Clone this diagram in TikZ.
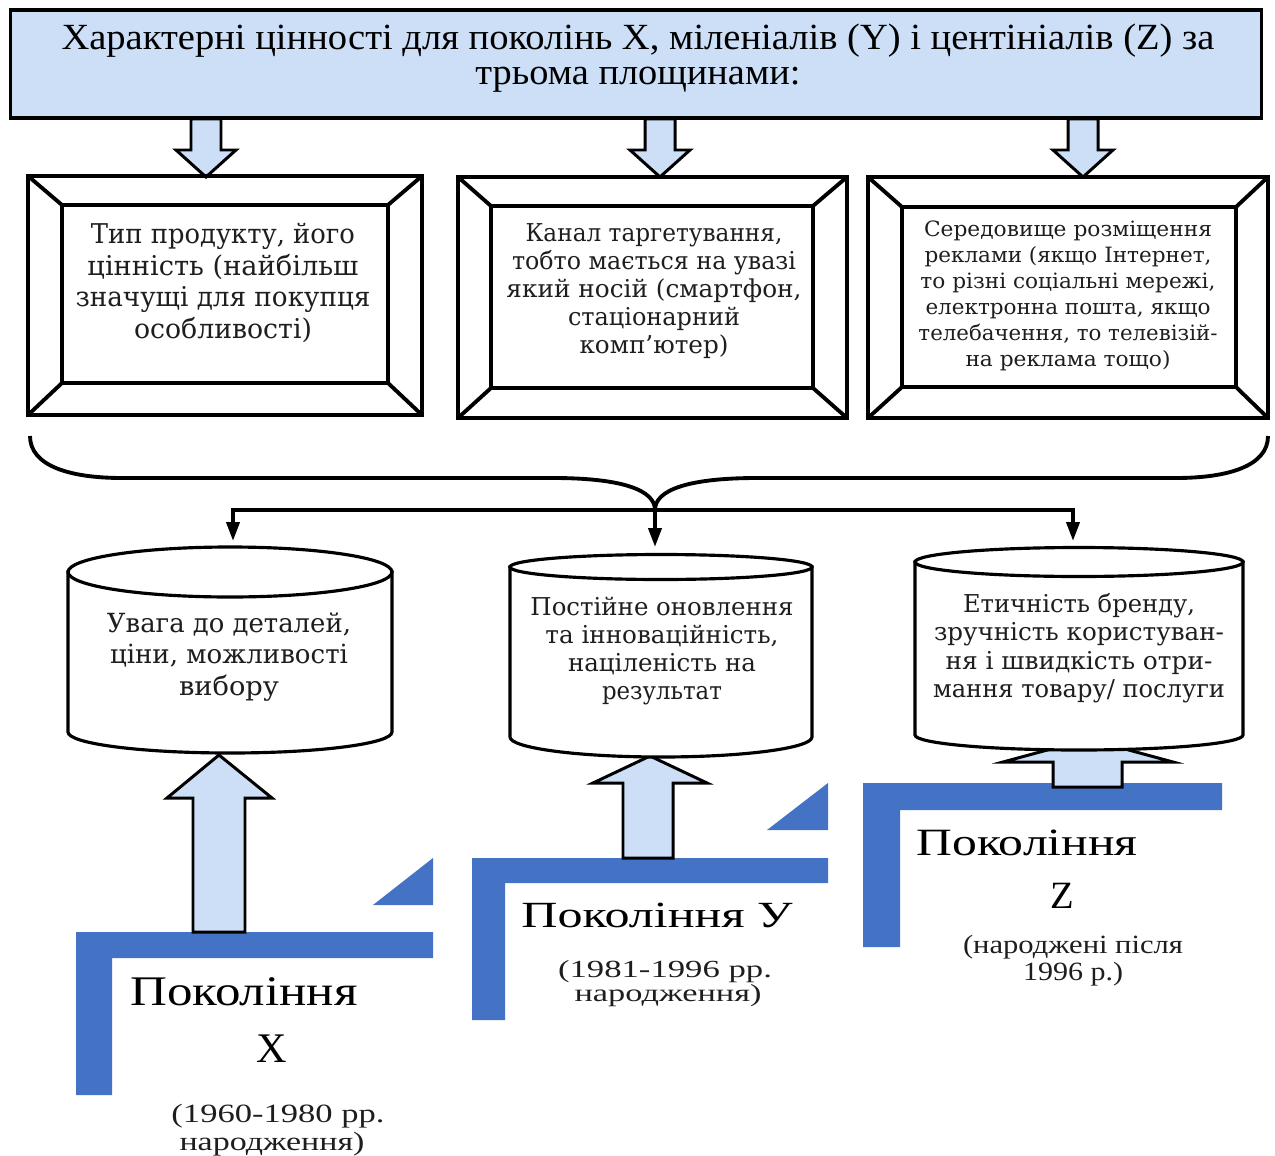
\documentclass[tikz,border=0pt]{standalone}
\usepackage{graphicx}
\usepackage{fontspec}
\setmainfont{Liberation Serif}
\newfontfamily\slabfont{DejaVu Serif}
\usetikzlibrary{arrows.meta}

% one drawing unit (px)
\newdimen\pxu \pxu=0.02cm
% a line of text stretched to a given width, keeping its height
\newcommand\wl[2]{\resizebox{#1\pxu}{\height}{#2}}

\definecolor{paleblue}{HTML}{CCDFF7}
\definecolor{barblue}{HTML}{4472C4}
\definecolor{ink}{HTML}{1E1E1E}

\tikzset{
  frame/.style={draw, line width=2.2pt, inner sep=0pt, outer sep=0pt, line join=miter},
  slabtext/.style={align=center, inner sep=0pt, text=ink},
  gentext/.style={inner sep=0pt, anchor=base, text=black},
  smalltext/.style={inner sep=0pt, anchor=base, text=ink},
  blockarrow/.style={draw=black, fill=paleblue, line width=1.7pt, line join=miter},
  cyl/.style={draw=black, fill=white, line width=1.8pt},
  bracket/.style={line width=2.2pt},
  conn/.style={line width=2.2pt, -{Triangle[length=0.38cm, width=0.26cm]}}
}

\begin{document}
\begin{tikzpicture}[x=0.02cm, y=-0.02cm]
\useasboundingbox (0,0) rectangle (1275,1156);

% ---------- heading ----------
\node[draw, fill=paleblue, line width=1.8pt, inner sep=0pt, outer sep=0pt,
      minimum width=25.04cm, minimum height=2.16cm] (title) at (636,64) {};
\node[align=center, inner sep=0pt, font=\fontsize{21}{20}\selectfont] (titletext) at (638,58)
  {\wl{1153}{Характерні цінності для поколінь X, міленіалів (Y) і центініалів (Z) за}\\
   \wl{325}{трьома площинами:}};

% ---------- down block arrows ----------
\foreach \cx in {206,660,1083}
  \draw[blockarrow] (\cx-15,119) -- (\cx-15,150) -- (\cx-30,150) -- (\cx,177)
    -- (\cx+30,150) -- (\cx+15,150) -- (\cx+15,119) -- cycle;

% ---------- bevelled boxes ----------
\node[frame, minimum width=7.88cm, minimum height=4.78cm] (o1) at (225,295.5) {};
\node[frame, minimum width=6.52cm, minimum height=3.56cm] (i1) at (225,294) {};
\node[frame, minimum width=7.78cm, minimum height=4.82cm] (o2) at (652.5,297.5) {};
\node[frame, minimum width=6.44cm, minimum height=3.64cm] (i2) at (652,297) {};
\node[frame, minimum width=8.0cm, minimum height=4.82cm] (o3) at (1068,297.5) {};
\node[frame, minimum width=6.68cm, minimum height=3.6cm] (i3) at (1069,297) {};
\foreach \k in {1,2,3}
  \foreach \c in {north west, north east, south west, south east}
    \draw[line width=2.2pt] (o\k.\c) -- (i\k.\c);

\node[slabtext, font=\slabfont\fontsize{15.5}{18}\selectfont] (t1) at (223,283)
  {\wl{264}{Тип продукту, його}\\ \wl{271}{цінність (найбільш}\\
   \wl{295}{значущі для покупця}\\ \wl{178}{особливості)}};
\node[slabtext, font=\slabfont\fontsize{14}{16}\selectfont] (t2) at (654,291)
  {\wl{257}{Канал таргетування,}\\ \wl{284}{тобто мається на увазі}\\
   \wl{295}{який носій (смартфон,}\\ \wl{172}{стаціонарний}\\ \wl{149}{комп’ютер)}};
\node[slabtext, font=\slabfont\fontsize{12}{14.8}\selectfont] (t3) at (1068,296)
  {\wl{288}{Середовище розміщення}\\ \wl{287}{реклами (якщо Інтернет,}\\
   \wl{295}{то різні соціальні мережі,}\\ \wl{285}{електронна пошта, якщо}\\
   \wl{299}{телебачення, то телевізій-}\\ \wl{205}{на реклама тощо)}};

% ---------- bracket and distribution arrows ----------
\coordinate (hub) at (655,510);
\draw[bracket] (30,436) .. controls (30,466) and (70,478) .. (122,478) -- (553,478)
  .. controls (622,478) and (655,490) .. (hub);
\draw[bracket] (1268,436) .. controls (1268,466) and (1228,478) .. (1176,478) -- (757,478)
  .. controls (688,478) and (655,490) .. (hub);
\coordinate (c1) at (233,541);
\coordinate (c2) at (655,547);
\coordinate (c3) at (1073,541);
\draw[conn] (hub) -| (c1);
\draw[conn] (hub) -- (c2);
\draw[conn] (hub) -| (c3);

% ---------- generation brackets ----------
\fill[barblue] (76,932) -- (433,932) -- (433,958) -- (112,958) -- (112,1095) -- (76,1095) -- cycle;
\fill[barblue] (373,905) -- (433,858) -- (433,905) -- cycle;
\fill[barblue] (472,858) -- (828,858) -- (828,883) -- (505,883) -- (505,1020) -- (472,1020) -- cycle;
\fill[barblue] (767,830) -- (828,783) -- (828,830) -- cycle;
\fill[barblue] (863,783) -- (1222,783) -- (1222,810) -- (900,810) -- (900,947) -- (863,947) -- cycle;

% ---------- up block arrows ----------
\draw[blockarrow] (193,932) -- (193,798) -- (167,798) -- (219,755) -- (272,798)
  -- (245,798) -- (245,932) -- cycle;
\draw[blockarrow] (623,858) -- (623,783) -- (593,783) -- (650,756) -- (707,783)
  -- (673,783) -- (673,858) -- cycle;
\draw[blockarrow] (1053,787) -- (1053,762) -- (1003,762) -- (1088,739) -- (1173,762)
  -- (1122,762) -- (1122,787) -- cycle;

% ---------- cylinders ----------
\draw[cyl] (68,572) -- (68,732) .. controls (68,743.6) and (140.5,753) .. (230,753)
  .. controls (319.5,753) and (392,743.6) .. (392,732) -- (392,572) -- cycle;
\draw[cyl] (230,572) ellipse [x radius=3.24cm, y radius=0.5cm];
\draw[cyl] (510,567) -- (510,737) .. controls (510,748) and (577.6,757) .. (661,757)
  .. controls (744.4,757) and (812,748) .. (812,737) -- (812,567) -- cycle;
\draw[cyl] (661,567) ellipse [x radius=3.02cm, y radius=0.25cm];
\draw[cyl] (915,562) -- (915,735) .. controls (915,743.3) and (988.4,750) .. (1079,750)
  .. controls (1169.6,750) and (1243,743.3) .. (1243,735) -- (1243,562) -- cycle;
\draw[cyl] (1079,562) ellipse [x radius=3.28cm, y radius=0.29cm];

\node[slabtext, font=\slabfont\fontsize{15}{17.9}\selectfont] (v1) at (229,657)
  {\wl{244}{Увага до деталей,}\\ \wl{238}{ціни, можливості}\\ \wl{100}{вибору}};
\node[slabtext, font=\slabfont\fontsize{14}{16}\selectfont] (v2) at (662,651)
  {\wl{263}{Постійне оновлення}\\ \wl{233}{та інноваційність,}\\
   \wl{188}{націленість на}\\ \wl{120}{результат}};
\node[slabtext, font=\slabfont\fontsize{14}{16.2}\selectfont] (v3) at (1079,648)
  {\wl{232}{Етичність бренду,}\\ \wl{290}{зручність користуван-}\\
   \wl{267}{ня і швидкість отри-}\\ \wl{292}{мання товару/ послуги}};

% ---------- generation labels ----------
\node[gentext, font=\fontsize{24}{24}\selectfont] (gx) at (244,1005) {\wl{227}{Покоління}};
\node[gentext, font=\fontsize{24}{24}\selectfont] (gxl) at (272,1062) {X};
\node[smalltext, font=\fontsize{15}{15}\selectfont] (gxa) at (278,1122) {\wl{213}{(1960-1980 рр.}};
\node[smalltext, font=\fontsize{15}{15}\selectfont] (gxb) at (272,1150) {\wl{185}{народження)}};

\node[gentext, font=\fontsize{21}{21}\selectfont] (gy) at (657,927) {\wl{271}{Покоління У}};
\node[smalltext, font=\fontsize{14}{14}\selectfont] (gya) at (665,977) {\wl{214}{(1981-1996 рр.}};
\node[smalltext, font=\fontsize{14}{14}\selectfont] (gyb) at (668,1001) {\wl{187}{народження)}};

\node[gentext, font=\fontsize{22}{22}\selectfont] (gz) at (1027,855) {\wl{221}{Покоління}};
\node[gentext, font=\fontsize{22}{22}\selectfont] (gzl) at (1062,908) {Z};
\node[smalltext, font=\fontsize{15}{15}\selectfont] (gza) at (1073,953) {\wl{220}{(народжені після}};
\node[smalltext, font=\fontsize{15}{15}\selectfont] (gzb) at (1073,980) {\wl{100}{1996 р.)}};
\end{tikzpicture}
\end{document}
